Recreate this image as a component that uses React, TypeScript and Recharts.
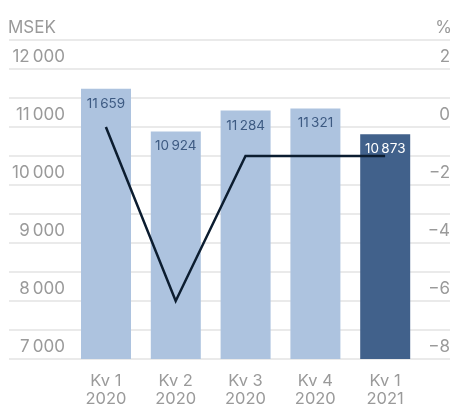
import { Bar, CartesianGrid, Cell, ComposedChart, LabelList, Line, XAxis, YAxis } from "recharts";

const quarters = ["Kv 1", "Kv 2", "Kv 3", "Kv 4", "Kv 1"];
const years = ["2020", "2020", "2020", "2020", "2021"];
const sales = [11659, 10924, 11284, 11321, 10873];
const growth = [0, -6, -1, -1, -1];

const leftTicks = [7000, 7500, 8000, 8500, 9000, 9500, 10000, 10500, 11000, 11500, 12000, 12500];
const rightTicks = [-8, -7, -6, -5, -4, -3, -2, -1, 0, 1, 2, 3];

const LIGHT = "#adc3df";
const DARK = "#41618b";
const GREY = "#9a9a9a";
const FONT = "Inter, 'Noto Sans', sans-serif";

const WIDTH = 444;
const HEIGHT = 399;

const data = quarters.map((q, i) => ({
  name: `${q} ${years[i]}`,
  sales: sales[i],
  growth: growth[i],
}));

function fmt(n: number) {
  return String(Math.abs(n)).replace(/\B(?=(\d{3})+(?!\d))/g, "\u2009");
}

function LeftTick(props: any) {
  const { y, payload } = props;
  const v = payload.value;
  if (v % 1000 !== 0 || v > 12000) return null;
  return (
    <text x={57} y={y - 13} textAnchor="end" dominantBaseline="central" fill={GREY} fontSize={17} fontFamily={FONT}>
      {fmt(v)}
    </text>
  );
}

function RightTick(props: any) {
  const { y, payload } = props;
  const v = payload.value;
  if (v % 2 !== 0 || v > 2) return null;
  return (
    <text x={442} y={y - 13} textAnchor="end" dominantBaseline="central" fill={GREY} fontSize={17} fontFamily={FONT}>
      {v < 0 ? `\u2212${Math.abs(v)}` : String(v)}
    </text>
  );
}

function XTick(props: any) {
  const { x, y, payload, index } = props;
  return (
    <text x={x} textAnchor="middle" fill={GREY} fontSize={16.5} fontFamily={FONT}>
      <tspan x={x} y={y + 19}>{quarters[index] ?? payload.value}</tspan>
      <tspan x={x} y={y + 37}>{years[index]}</tspan>
    </text>
  );
}

function BarValue(props: any) {
  const { x, y, width, value, index } = props;
  const last = index === sales.length - 1;
  return (
    <text
      x={x + width / 2}
      y={y + 14}
      textAnchor="middle"
      dominantBaseline="central"
      fill={last ? "#ffffff" : "#3d5a82"}
      fontSize={13.5}
      fontFamily={FONT}
    >
      {fmt(value)}
    </text>
  );
}

export default function App() {
  return (
    <div style={{ width: WIDTH - 8, height: HEIGHT }}>
      <div style={{ position: "fixed", left: 8, top: 8, width: WIDTH, height: HEIGHT, fontFamily: FONT }}>
        <div style={{ position: "absolute", left: 0, top: 10, fontSize: 17, color: GREY, lineHeight: "18px" }}>MSEK</div>
        <div style={{ position: "absolute", right: 0, top: 10, fontSize: 17, color: GREY, lineHeight: "18px" }}>%</div>
        <ComposedChart width={WIDTH} height={HEIGHT} data={data} margin={{ top: 32, right: 1, left: 0, bottom: 0 }}>
          <CartesianGrid yAxisId="left" vertical={false} stroke="#e3e3e3" strokeWidth={1.5} />
          <XAxis
            dataKey="name"
            height={48}
            axisLine={false}
            tickLine={false}
            padding={{ left: 62, right: 30 }}
            tick={<XTick />}
            interval={0}
          />
          <YAxis
            yAxisId="left"
            width={1}
            domain={[7000, 12500]}
            ticks={leftTicks}
            axisLine={false}
            tickLine={false}
            tick={<LeftTick />}
            interval={0}
          />
          <YAxis
            yAxisId="right"
            orientation="right"
            width={1}
            domain={[-8, 3]}
            ticks={rightTicks}
            axisLine={false}
            tickLine={false}
            tick={<RightTick />}
            interval={0}
          />
          <Bar yAxisId="left" dataKey="sales" barSize={50} isAnimationActive={false}>
            {data.map((_, i) => (
              <Cell key={i} fill={i === data.length - 1 ? DARK : LIGHT} />
            ))}
            <LabelList dataKey="sales" content={<BarValue />} />
          </Bar>
          <Line
            yAxisId="right"
            dataKey="growth"
            type="linear"
            stroke="#0c1d30"
            strokeWidth={2.5}
            dot={false}
            activeDot={false}
            isAnimationActive={false}
          />
        </ComposedChart>
      </div>
    </div>
  );
}
